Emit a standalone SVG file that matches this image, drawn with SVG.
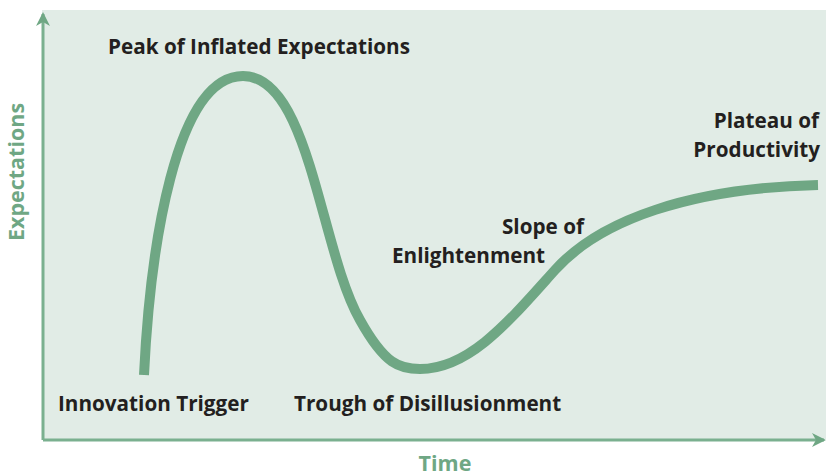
<svg xmlns="http://www.w3.org/2000/svg" width="826" height="476" viewBox="0 0 826 476">
<defs>
<style>
.lbl{font-family:"Open Sans","Liberation Sans",sans-serif;font-weight:bold;font-size:20.7px;fill:#231f20}
.ax{font-family:"Open Sans","Liberation Sans",sans-serif;font-weight:bold;font-size:21.5px;fill:#6fa784}
.axis{stroke:#7ab08f;stroke-width:3;fill:none}
</style>
<marker id="ah" viewBox="0 0 14 14" refX="12" refY="7" markerWidth="14" markerHeight="14" markerUnits="userSpaceOnUse" orient="auto">
<path d="M0,0 L14,7 L0,14 L4,7 Z" fill="#6fa784"/>
</marker>
</defs>
<rect x="42" y="10" width="784" height="429" fill="#e1ece6"/>
<g id="connectors">
<path class="axis" d="M43,440 L43,14" marker-end="url(#ah)"/>
<path class="axis" d="M43,440 L824,440" marker-end="url(#ah)"/>
</g>
<g id="curve">
<path d="M144,375 C150,250 175,76 243,76 C310,76 320,250 360,320 C385,365 400,369 420,369 C470,369 510,320 555,270 C600,220 690,188 818,185" fill="none" stroke="#6fa784" stroke-width="10"/>
</g>
<g id="peak"><text class="lbl" x="108" y="54">Peak of Inflated Expectations</text></g>
<g id="trigger"><text class="lbl" x="58" y="411">Innovation Trigger</text></g>
<g id="trough"><text class="lbl" x="294" y="411">Trough of Disillusionment</text></g>
<g id="slope"><text class="lbl" x="584" y="234" text-anchor="end">Slope of</text><text class="lbl" x="545" y="263" text-anchor="end">Enlightenment</text></g>
<g id="plateau"><text class="lbl" x="819" y="128" text-anchor="end">Plateau of</text><text class="lbl" x="820" y="157" text-anchor="end">Productivity</text></g>
<text class="ax" x="445" y="471" text-anchor="middle">Time</text>
<text class="ax" transform="translate(24,172) rotate(-90)" text-anchor="middle">Expectations</text>
</svg>
